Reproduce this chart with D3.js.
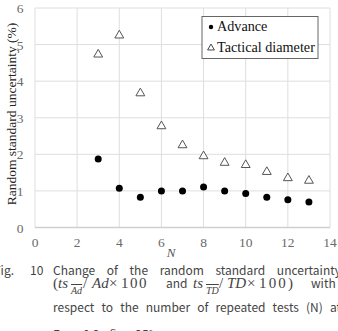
<!DOCTYPE html>
<html>
<head>
<meta charset="utf-8">
<script src="https://cdn.jsdelivr.net/npm/d3@7"></script>
<style>
  body { margin: 0; background: #fff; }
  svg { display: block; }
</style>
</head>
<body>
<div id="chart"></div>
<script>
// values
const repeats = [3, 4, 5, 6, 7, 8, 9, 10, 11, 12, 13];
const advance = [1.87, 1.07, 0.83, 1.0, 1.0, 1.11, 1.0, 0.93, 0.83, 0.76, 0.70];
const tactical = [4.73, 5.25, 3.67, 2.77, 2.25, 1.95, 1.77, 1.71, 1.52, 1.35, 1.28];
const xTicks = [0, 2, 4, 6, 8, 10, 12, 14];
const yTicks = [0, 1, 2, 3, 4, 5, 6];
const seriesNames = ["Advance", "Tactical diameter"];

const width = 338, height = 331;
const margin = { top: 8, right: 8, bottom: 104, left: 35 };
const serif = "'Liberation Serif', 'Times New Roman', serif";
const sans = "'Noto Sans CJK KR', 'Noto Sans', sans-serif";

const svg = d3.select("#chart").append("svg")
    .attr("width", width)
    .attr("height", height);

const x = d3.scaleLinear().domain([0, 14]).range([margin.left, width - margin.right]);
const y = d3.scaleLinear().domain([0, 6]).range([height - margin.bottom + 0.5, margin.top]);

// gridlines
svg.append("g")
    .selectAll("line")
    .data(xTicks)
    .join("line")
    .attr("x1", d => x(d)).attr("x2", d => x(d))
    .attr("y1", y(0)).attr("y2", y(6))
    .attr("stroke", "#dedede").attr("stroke-width", 1);

svg.append("g")
    .selectAll("line")
    .data(yTicks)
    .join("line")
    .attr("x1", x(0)).attr("x2", x(14))
    .attr("y1", d => y(d)).attr("y2", d => y(d))
    .attr("stroke", d => d === 0 ? "#cfcfcf" : "#dedede").attr("stroke-width", d => d === 0 ? 1.5 : 1);

// tick labels
svg.append("g")
    .selectAll("text")
    .data(yTicks)
    .join("text")
    .attr("x", 20)
    .attr("y", d => y(d) + 5)
    .attr("text-anchor", "middle")
    .attr("font-family", serif)
    .attr("font-size", 13.5)
    .attr("fill", "#6a6a6a")
    .text(d => d);

svg.append("g")
    .selectAll("text")
    .data(xTicks)
    .join("text")
    .attr("x", d => x(d))
    .attr("y", 247)
    .attr("text-anchor", "middle")
    .attr("font-family", serif)
    .attr("font-size", 13.5)
    .attr("fill", "#6a6a6a")
    .text(d => d);

// axis titles
svg.append("text")
    .attr("x", 171)
    .attr("y", 257)
    .attr("text-anchor", "middle")
    .attr("font-family", serif)
    .attr("font-style", "italic")
    .attr("font-size", 13)
    .attr("fill", "#555")
    .text("N");

svg.append("text")
    .attr("transform", "translate(16,114) rotate(-90)")
    .attr("text-anchor", "middle")
    .attr("font-family", serif)
    .attr("font-size", 13.5)
    .attr("fill", "#222")
    .text("Random standard uncertainty (%)");

// markers
const tri = d3.symbol().type(d3.symbolTriangle).size(34);

svg.append("g")
    .selectAll("path")
    .data(repeats)
    .join("path")
    .attr("d", tri)
    .attr("transform", (d, i) => `translate(${x(d)},${y(tactical[i])})`)
    .attr("fill", "#fff")
    .attr("stroke", "#555")
    .attr("stroke-width", 1);

svg.append("g")
    .selectAll("circle")
    .data(repeats)
    .join("circle")
    .attr("cx", d => x(d))
    .attr("cy", (d, i) => y(advance[i]))
    .attr("r", 3.5)
    .attr("fill", "#000");

// legend
const legend = svg.append("g");
legend.append("rect")
    .attr("x", 202).attr("y", 16.5)
    .attr("width", 116).attr("height", 42)
    .attr("fill", "#fff")
    .attr("stroke", "#666")
    .attr("stroke-width", 1);

legend.append("circle")
    .attr("cx", 211).attr("cy", 27).attr("r", 2.2).attr("fill", "#000");
legend.append("path")
    .attr("d", d3.symbol().type(d3.symbolTriangle).size(20))
    .attr("transform", "translate(211,48)")
    .attr("fill", "#fff").attr("stroke", "#444");

legend.selectAll("text")
    .data(seriesNames)
    .join("text")
    .attr("x", 217)
    .attr("y", (d, i) => 31 + i * 21)
    .attr("font-family", serif)
    .attr("font-size", 14.2)
    .attr("fill", "#111")
    .text(d => d);

// caption
const capSize = 12;
function capText(txt, xPos, yPos) {
    return svg.append("text")
        .attr("x", xPos).attr("y", yPos)
        .attr("font-family", sans)
        .attr("font-size", capSize)
        .attr("fill", "#444")
        .text(txt);
}

function justify(words, x0, x1, yPos) {
    const nodes = words.map(w => capText(w, 0, yPos));
    const widths = nodes.map(n => n.node().getComputedTextLength());
    const gap = (x1 - x0 - d3.sum(widths)) / (words.length - 1);
    let cx = x0;
    nodes.forEach((n, i) => { n.attr("x", cx); cx += widths[i] + gap; });
}

capText("Fig.", -6, 275);
capText("10", 30, 275);
justify(["Change", "of", "the", "random", "standard", "uncertainty"], 53, 341, 275);
justify(["respect", "to", "the", "number", "of", "repeated", "tests", "(N)", "at"], 53, 341, 312);
justify(["Fr", "=", "0.2,", "δ", "=", "25°"], 53, 153, 339);

// math line: [text, x, kind]
const mathPieces = [
    ["(", 53, "r"], ["ts", 58, "i"], ["Ad", 71, "sub"], ["/", 83, "r"], ["Ad", 92, "i"],
    ["×", 109, "r"], ["100", 121, "r"],
    ["and", 166, "cap"],
    ["ts", 193, "i"], ["TD", 206, "sub"], ["/", 219, "r"], ["TD", 227, "i"],
    ["×", 247, "r"], ["100)", 259, "r"],
    ["with", 311, "cap"]
];

svg.append("g")
    .selectAll("text")
    .data(mathPieces)
    .join("text")
    .attr("x", d => d[1])
    .attr("y", d => d[2] === "sub" ? 294 : 288)
    .attr("font-family", d => d[2] === "cap" ? sans : serif)
    .attr("font-size", d => d[2] === "cap" ? capSize : d[2] === "sub" ? 10 : 15)
    .attr("font-style", d => d[2] === "i" || d[2] === "sub" ? "italic" : "normal")
    .attr("text-decoration", d => d[2] === "sub" ? "overline" : "none")
    .attr("textLength", d => d[2] === "r" && d[0].length > 1 ? d[0].length * 8.5 : null)
    .attr("fill", "#444")
    .text(d => d[0]);
</script>
</body>
</html>
